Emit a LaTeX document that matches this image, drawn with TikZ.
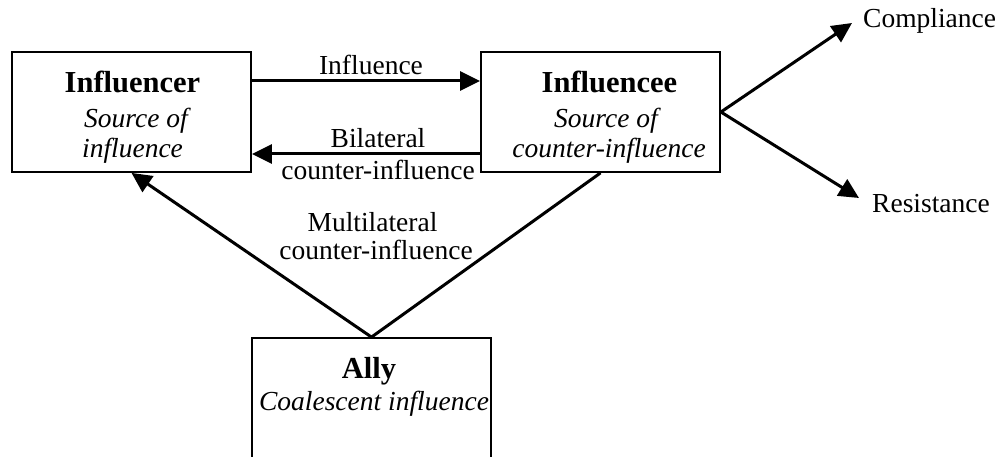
\documentclass[tikz,border=0pt]{standalone}
\usepackage{fontspec}
\setmainfont{Liberation Serif}
\usetikzlibrary{arrows.meta}
\begin{document}
\begin{tikzpicture}[x=1pt,y=-1pt,
  font=\fontsize{27.5}{31}\selectfont,
  box/.style={draw, line width=1.8pt, minimum width=239pt, minimum height=120pt, inner sep=0pt},
  line/.style={inner sep=0pt, anchor=base},
  head/.style={line, font=\fontsize{30.5}{34}\selectfont\bfseries},
  role/.style={line, font=\fontsize{27.5}{31}\selectfont\itshape},
  flow/.style={line width=3pt, -{Triangle[length=20pt,width=19pt]}},
  link/.style={line width=3pt}
]
\useasboundingbox (0,0) rectangle (999,457);

% actors
\node[box] (infr) at (131.5,112) {};
\node[head] (infr-h) at (132.5,93) {Influencer};
\node[role] (infr-r1) at (136,128) {Source of};
\node[role] (infr-r2) at (132.5,158) {influence};

\node[box] (infe) at (600.5,112) {};
\node[head] (infe-h) at (609.5,93) {Influencee};
\node[role] (infe-r1) at (606,128) {Source of};
\node[role] (infe-r2) at (609,158) {counter-influence};

\node[box, minimum height=140pt] (ally) at (371.5,408) {};
\node[head] (ally-h) at (369,378) {Ally};
\node[role] (ally-r) at (374,410) {Coalescent influence};

% outcomes
\node[line, anchor=base west] (comp) at (863,28) {Compliance};
\node[line, anchor=base west] (resi) at (872,213) {Resistance};
\coordinate (ctip) at (852,23);
\coordinate (rtip) at (859,198);

% edge labels
\node[line] (lin) at (371,75) {Influence};
\node[line] (lbi1) at (378,148) {Bilateral};
\node[line] (lbi2) at (378,180) {counter-influence};
\node[line] (lmu1) at (372.5,232) {Multilateral};
\node[line] (lmu2) at (376,260) {counter-influence};

% influence flows
\draw[flow] ([yshift=31pt]infr.east) -- ([yshift=31pt]infe.west);
\draw[flow] ([yshift=-42pt]infe.west) -- ([yshift=-42pt]infr.east);
\draw[flow] (ally.north) -- (infr.south);
\draw[link] (ally.north) -- (infe.south);
\draw[flow] (infe.east) -- (ctip);
\draw[flow] (infe.east) -- (rtip);
\end{tikzpicture}
\end{document}
